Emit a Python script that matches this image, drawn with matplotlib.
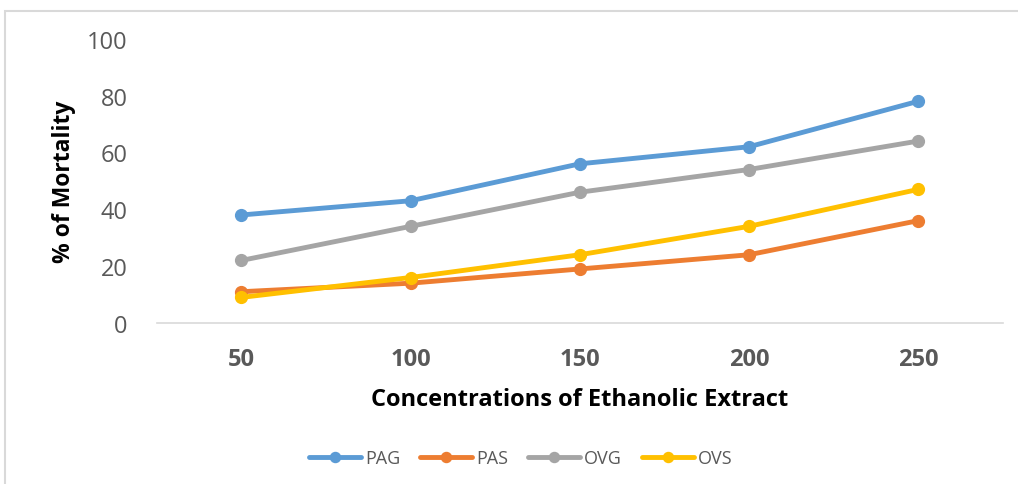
import matplotlib
matplotlib.use("Agg")
import matplotlib.pyplot as plt
from matplotlib.patches import Rectangle

# data
concentrations = ["50", "100", "150", "200", "250"]
pag = [38, 43, 56, 62, 78]
pas = [11, 14, 19, 24, 36]
ovg = [22, 34, 46, 54, 64]
ovs = [9, 16, 24, 34, 47]

series = [("PAG", pag, "#5b9bd5"),
          ("PAS", pas, "#ed7d31"),
          ("OVG", ovg, "#a5a5a5"),
          ("OVS", ovs, "#ffc000")]

plt.rcParams['font.family'] = ['Open Sans', 'DejaVu Sans']

fig = plt.figure(figsize=(10.18, 4.85), dpi=100)
ax = fig.add_axes([0.154, 0.332, 0.831, 0.586])

# light gray frame around the chart area
fig.patches.append(Rectangle((0.005, -0.01), 1.2, 0.985, transform=fig.transFigure,
                             fill=False, edgecolor="#d9d9d9", linewidth=1.5))

x = list(range(len(concentrations)))
for name, vals, color in series:
    ax.plot(x, vals, color=color, linewidth=3.5, marker="o", markersize=8.5,
            label=name, solid_capstyle="round")

ax.set_xlim(-0.5, len(concentrations) - 0.5)
ax.set_ylim(0, 100)
ax.set_yticks([0, 20, 40, 60, 80, 100])
ax.set_xticks(x)
ax.set_xticklabels(concentrations, fontweight="bold")

for s in ["top", "right", "left"]:
    ax.spines[s].set_visible(False)
ax.spines["bottom"].set_color("#d9d9d9")
ax.spines["bottom"].set_linewidth(1.2)
ax.tick_params(axis="both", length=0, labelsize=17, colors="#595959")
ax.tick_params(axis="y", pad=21)
ax.tick_params(axis="x", pad=17)

ax.set_xlabel("Concentrations of Ethanolic Extract", fontsize=17, fontweight="bold",
              labelpad=12)
ax.set_ylabel("% of Mortality", fontsize=16.5, fontweight="bold", labelpad=8)

ax.legend(loc="center", bbox_to_anchor=(0.43, -0.475), ncol=4, frameon=False,
          fontsize=13, labelcolor="#595959", handlelength=2.9, handletextpad=0.2,
          columnspacing=1.1, markerscale=0.85)

fig.savefig("out.png", dpi=100)
